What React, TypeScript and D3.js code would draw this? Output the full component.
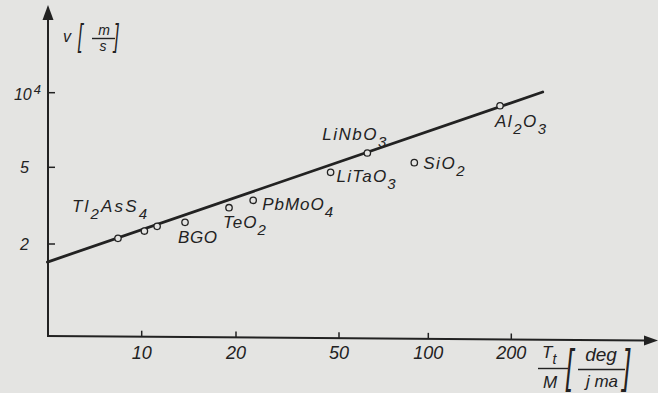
import React from "react";
import * as d3 from "d3";

// ---------- data ----------
const xTickValues = [10, 20, 50, 100, 200];
const xTickLabels = ["10", "20", "50", "100", "200"];
const yTickValues = [10000, 5000, 2000];
const yTickLabels = ["10^4", "5", "2"];

const materials = ["Tl2AsS4", "", "", "BGO", "TeO2", "PbMoO4", "LiTaO3", "LiNbO3", "SiO2", "Al2O3"];
const meritTtM = [8.4, 10.2, 11.2, 13.75, 19.0, 23.3, 46.4, 62.3, 89.7, 182];
const velocity = [2140, 2335, 2470, 2590, 3085, 3370, 4710, 5710, 5220, 8860];

const fitLineX = [5, 260];
const fitLineV = [1612, 10065];

// ---------- layout ----------
const W = 658;
const H = 393;
const X0 = 48; // y-axis position
const xTickPos = [141.7, 236, 339, 428.3, 511.3];
const yTickPos = [92.7, 167.3, 244];
// label offsets (start x, baseline y) relative to each point
const labelDx = [-46, 0, 0, -7, -6, 9, 6, -45, 9, -5];
const labelDy = [-26, 0, 0, 21, 20, 10, 10, -13, 6, 21];
const labelSpacing = [2.2, 0, 0, 0.6, 1, 1, 1.2, 1.5, 1.5, 1.5];

const INK = "#222";
const PAPER = "#e4e4e2";
const FONT = "'Liberation Sans', Arial, sans-serif";

const xScale = d3.scaleLog().domain(xTickValues).range(xTickPos);
const yScale = d3.scaleLog().domain(yTickValues).range(yTickPos);

// slightly tilted x axis, as in the scan
const axisY = d3.scaleLinear().domain([X0, 646]).range([336, 340.5]);

function Formula({
  text,
  x,
  y,
  size,
  spacing,
}: {
  text: string;
  x: number;
  y: number;
  size: number;
  spacing: number;
}) {
  const parts = text.match(/[A-Za-z]+|\d+/g) || [];
  let sub = false;
  const nodes = parts.map((p, i) => {
    const isDigit = /^\d/.test(p);
    const dy = isDigit && !sub ? 7 : !isDigit && sub ? -7 : 0;
    sub = isDigit;
    return (
      <tspan key={i} dy={dy} fontSize={isDigit ? size - 2 : size}>
        {p}
      </tspan>
    );
  });
  return (
    <text x={x} y={y} fontSize={size} fontStyle="italic" fill={INK} letterSpacing={spacing}>
      {nodes}
    </text>
  );
}

export default function App() {
  const line = d3
    .line<number>()
    .x((d) => xScale(fitLineX[d]))
    .y((d) => yScale(fitLineV[d]));

  return (
    <svg
      width={W}
      height={H}
      style={{ position: "absolute", left: 0, top: 0, background: PAPER }}
      fontFamily={FONT}
    >
      <rect x={0} y={0} width={W} height={H} fill={PAPER} />

      {/* y axis */}
      <line x1={X0} y1={axisY(X0)} x2={X0} y2={18} stroke={INK} strokeWidth={2} />
      <polygon points={`${X0},5 ${X0 - 5.5},20 ${X0 + 5.5},20`} fill={INK} />
      {/* x axis */}
      <line x1={X0 - 1} y1={axisY(X0)} x2={646} y2={axisY(646)} stroke={INK} strokeWidth={2} />
      <polygon
        points={`658,${axisY(658)} 644,${axisY(644) - 5} 644,${axisY(644) + 5}`}
        fill={INK}
      />

      {/* y ticks */}
      {yTickValues.map((v, i) => {
        const y = yScale(v);
        const [base, exp] = yTickLabels[i].split("^");
        return (
          <g key={"yt" + i}>
            <line x1={X0} y1={y} x2={X0 + 7} y2={y} stroke={INK} strokeWidth={1.5} />
            <text
              x={exp ? 41 : 29}
              y={y + (exp ? 7 : 6)}
              fontSize={16}
              fontStyle="italic"
              textAnchor="end"
              fill={INK}
            >
              {base}
              {exp && (
                <tspan dy={-6} dx={2} fontSize={13}>
                  {exp}
                </tspan>
              )}
            </text>
          </g>
        );
      })}

      {/* x ticks */}
      {xTickValues.map((v, i) => {
        const x = xScale(v);
        const y0 = axisY(x);
        return (
          <g key={"xt" + i}>
            <line x1={x} y1={y0} x2={x} y2={y0 - 6} stroke={INK} strokeWidth={1.5} />
            <text x={x} y={359} fontSize={18} fontStyle="italic" textAnchor="middle" fill={INK}>
              {xTickLabels[i]}
            </text>
          </g>
        );
      })}

      {/* y unit: v [m/s] */}
      <g fill={INK} fontStyle="italic">
        <text x={63} y={42} fontSize={16}>v</text>
        <text transform="translate(78,46) scale(0.8,1.5)" fontSize={21}>[</text>
        <text x={104} y={34.5} fontSize={14} textAnchor="middle">m</text>
        <line x1={92} y1={38.5} x2={115} y2={38.5} stroke={INK} strokeWidth={1.4} />
        <text x={103} y={51} fontSize={14} textAnchor="middle">s</text>
        <text transform="translate(114,46) scale(0.8,1.5)" fontSize={21}>]</text>
      </g>

      {/* x unit: Tt/M [deg/j ma] */}
      <g fill={INK} fontStyle="italic">
        <text x={542} y={358} fontSize={17}>
          T<tspan dy={6} fontSize={14}>t</tspan>
        </text>
        <line x1={538} y1={368.5} x2={568} y2={368.5} stroke={INK} strokeWidth={1.4} />
        <text x={543} y={388} fontSize={17}>M</text>
        <text transform="translate(566,382) scale(0.8,1.45)" fontSize={32}>[</text>
        <text x={601} y={361} fontSize={19} textAnchor="middle">deg</text>
        <line x1={578} y1={369.5} x2={625} y2={369.5} stroke={INK} strokeWidth={1.4} />
        <text x={602} y={387} fontSize={17} textAnchor="middle">j ma</text>
        <text transform="translate(623,382) scale(0.8,1.45)" fontSize={32}>]</text>
      </g>

      {/* fit line */}
      <path d={line([0, 1]) || ""} fill="none" stroke={INK} strokeWidth={2.8} strokeLinecap="round" />

      {/* points */}
      {materials.map((m, i) => (
        <circle
          key={"p" + i}
          cx={xScale(meritTtM[i])}
          cy={yScale(velocity[i])}
          r={3.2}
          fill={PAPER}
          stroke={INK}
          strokeWidth={1.3}
        />
      ))}

      {/* labels */}
      {materials.map((m, i) =>
        m ? (
          <Formula
            key={"l" + i}
            text={m}
            x={xScale(meritTtM[i]) + labelDx[i]}
            y={yScale(velocity[i]) + labelDy[i]}
            size={17}
            spacing={labelSpacing[i]}
          />
        ) : null
      )}
    </svg>
  );
}
